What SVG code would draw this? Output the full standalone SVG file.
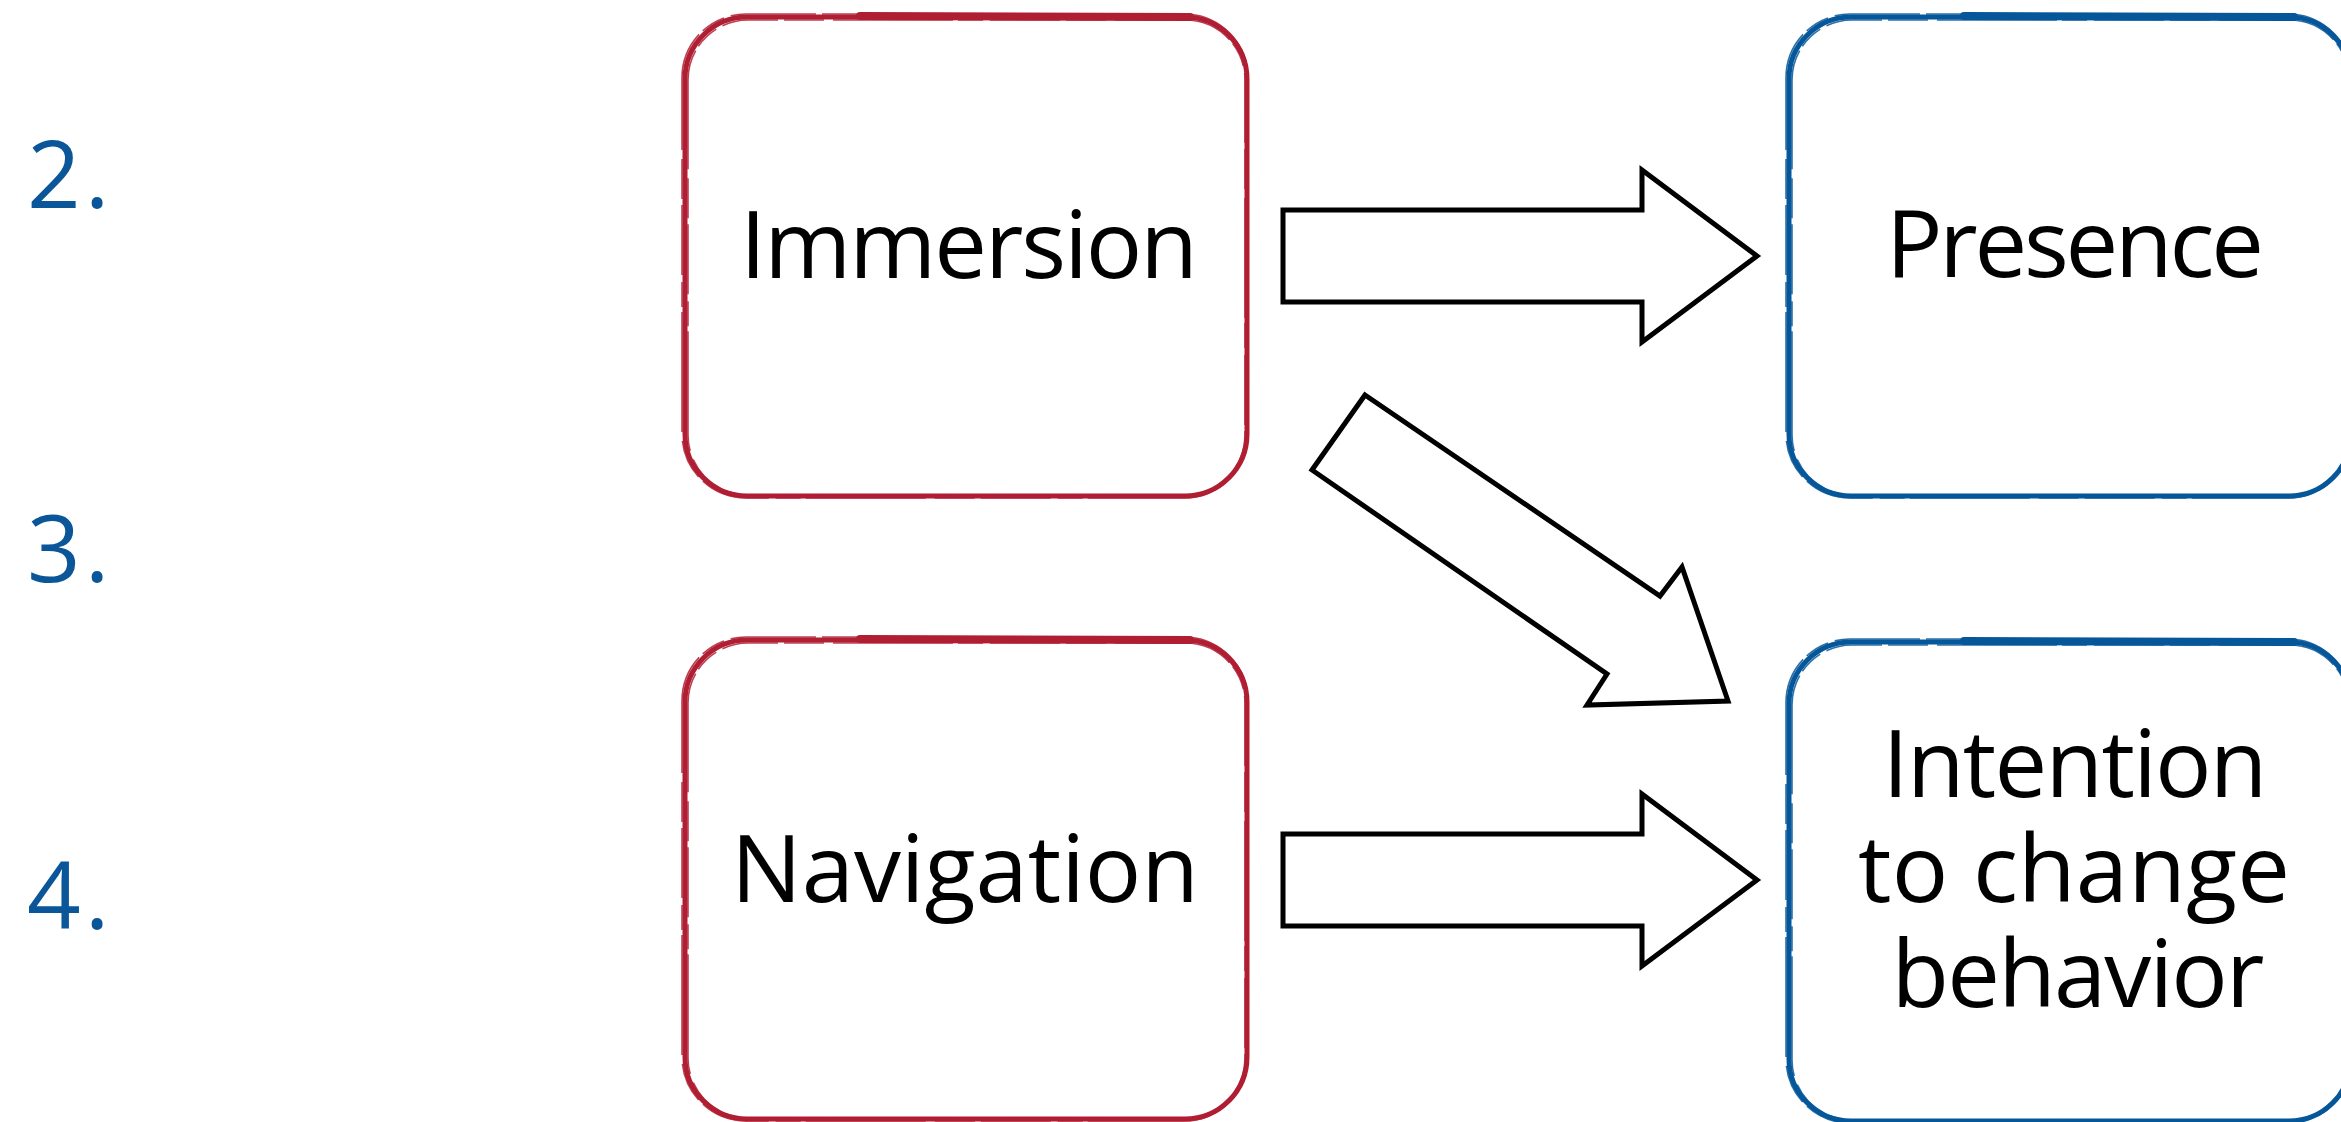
<svg xmlns="http://www.w3.org/2000/svg" width="2341" height="1122" viewBox="0 0 2341 1122">
  <style>
    .bg { fill: #ffffff; }
    .box { fill: none; stroke-width: 5; stroke-linejoin: round; }
    .tex { fill: none; stroke-width: 1.6; stroke-dasharray: 70 6 40 9 120 5 25 7; opacity: 0.85; }
    .brush { fill: none; stroke-linecap: round; }
    .red { stroke: #b01e33; }
    .blue { stroke: #06579a; }
    .label { font-family: "Open Sans", Lato, "Liberation Sans", sans-serif; font-size: 94px; fill: #000000; text-anchor: middle; font-variant-ligatures: none; font-feature-settings: "liga" 0; }
    .num { font-family: "Open Sans", Lato, "Liberation Sans", sans-serif; font-size: 94px; fill: #0a5699; letter-spacing: 4px; }
    .arrow { fill: #ffffff; stroke: #000000; stroke-width: 5; stroke-linejoin: miter; }
  </style>
  <rect class="bg" x="0" y="0" width="2341" height="1122"/>

  <g id="numbers">
    <text class="num" x="27" y="208">2.</text>
    <text class="num" x="27" y="582">3.</text>
    <text class="num" x="27" y="929">4.</text>
  </g>

  <g id="node-immersion">
    <rect class="box red" x="685" y="17" width="562" height="479" rx="62"/>
    <rect class="tex red" x="682" y="14" width="566" height="484" rx="64"/>
    <rect class="tex red" x="688" y="20" width="557" height="475" rx="60" style="stroke-dashoffset:40"/>
    <path class="brush red" d="M 860 16 L 1190 17" stroke-width="8"/>
    <text class="label" x="969" y="278" textLength="458">Immersion</text>
  </g>

  <g id="node-presence">
    <rect class="box blue" x="1789" y="17" width="562" height="479" rx="62"/>
    <rect class="tex blue" x="1786" y="14" width="566" height="484" rx="64"/>
    <rect class="tex blue" x="1792" y="20" width="557" height="475" rx="60" style="stroke-dashoffset:40"/>
    <path class="brush blue" d="M 1964 16 L 2294 17" stroke-width="8"/>
    <text class="label" x="2075" y="277" textLength="378">Presence</text>
  </g>

  <g id="node-navigation">
    <rect class="box red" x="685" y="640" width="562" height="479" rx="62"/>
    <rect class="tex red" x="682" y="637" width="566" height="484" rx="64"/>
    <rect class="tex red" x="688" y="643" width="557" height="475" rx="60" style="stroke-dashoffset:40"/>
    <path class="brush red" d="M 860 639 L 1190 640" stroke-width="8"/>
    <text class="label" x="965" y="902" textLength="468">Navigation</text>
  </g>

  <g id="node-intention">
    <rect class="box blue" x="1789" y="642" width="562" height="479" rx="62"/>
    <rect class="tex blue" x="1786" y="639" width="566" height="484" rx="64"/>
    <rect class="tex blue" x="1792" y="645" width="557" height="475" rx="60" style="stroke-dashoffset:40"/>
    <path class="brush blue" d="M 1964 641 L 2294 642" stroke-width="8"/>
    <text class="label"><tspan x="2075" y="797" textLength="385">Intention</tspan><tspan x="2074" y="902" textLength="432">to change</tspan><tspan x="2078" y="1007" textLength="373">behavior</tspan></text>
  </g>

  <g id="connectors">
    <polygon class="arrow" points="1283,210 1642,210 1642,170 1757,256 1642,342 1642,302 1283,302"/>
    <polygon class="arrow" points="1283,834 1642,834 1642,794 1757,880 1642,966 1642,926 1283,926"/>
    <polygon class="arrow" points="1365,395 1660,596 1682,567 1728,701 1587,705 1607,674 1312,470"/>
  </g>
</svg>
